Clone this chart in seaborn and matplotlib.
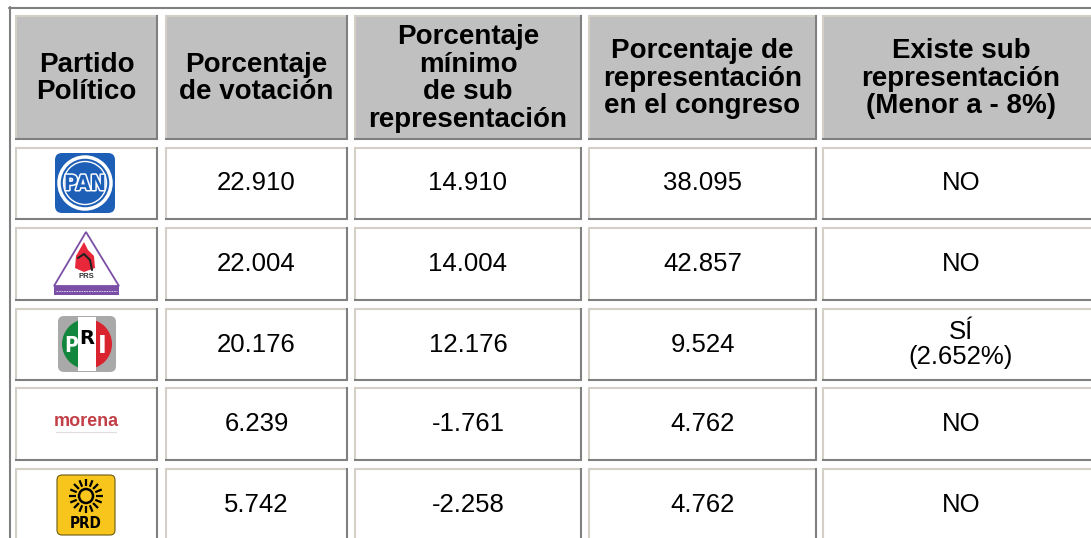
import numpy as np
import pandas as pd
import matplotlib
matplotlib.use("Agg")
import matplotlib.pyplot as plt
import seaborn as sns
from matplotlib.patches import Rectangle, FancyBboxPatch, Circle, Polygon, Wedge
import matplotlib.patheffects as pe

# Table data
encabezados = ["Partido\nPolítico",
               "Porcentaje\nde votación",
               "Porcentaje\nmínimo\nde sub\nrepresentación",
               "Porcentaje de\nrepresentación\nen el congreso",
               "Existe sub\nrepresentación\n(Menor a - 8%)"]
partidos = ["PAN", "PRS", "PRI", "morena", "PRD"]
votacion = [22.910, 22.004, 20.176, 6.239, 5.742]
minimo_sub = [14.910, 14.004, 12.176, -1.761, -2.258]
congreso = [38.095, 42.857, 9.524, 4.762, 4.762]
existe_sub = ["NO", "NO", "SÍ\n(2.652%)", "NO", "NO"]

df = pd.DataFrame({"partido": partidos, "votacion": votacion,
                   "minimo": minimo_sub, "congreso": congreso, "existe": existe_sub})

sns.set_theme(style="white")
plt.rcParams['font.family'] = ['Liberation Sans', 'DejaVu Sans']

W, H = 1091, 538
fig = plt.figure(figsize=(W / 100, H / 100), dpi=100)
ax = fig.add_axes([0, 0, 1, 1])
ax.set_xlim(0, W)
ax.set_ylim(H, 0)
ax.axis('off')

# layout (pixels)
col_x = [(15, 158), (165, 348), (354, 582), (588, 817), (822, 1100)]
head_y = (15, 140)
row_y = [(147, 220), (227, 301), (308, 381), (387, 461), (468, 542)]

light = '#d4d0c8'
dark = '#808080'


def celda(x0, x1, y0, y1, fill):
    ax.add_patch(Rectangle((x0, y0), x1 - x0, y1 - y0, facecolor=fill, edgecolor='none'))
    ax.plot([x0, x1], [y0 + 1, y0 + 1], color=light, lw=1.5, solid_capstyle='butt')
    ax.plot([x0 + 1, x0 + 1], [y0, y1], color=light, lw=1.5, solid_capstyle='butt')
    ax.plot([x0, x1], [y1 - 1, y1 - 1], color=dark, lw=1.5, solid_capstyle='butt')
    ax.plot([x1 - 1, x1 - 1], [y0, y1], color=dark, lw=1.5, solid_capstyle='butt')


# outer border
ax.plot([9, W], [7.5, 7.5], color=dark, lw=1.5)
ax.plot([9.5, 9.5], [7, H], color=dark, lw=1.5)

# header
for (x0, x1), txt in zip(col_x, encabezados):
    celda(x0, x1, head_y[0], head_y[1], '#c0c0c0')
    ax.text((x0 + x1) / 2, (head_y[0] + head_y[1]) / 2 + 1, txt, ha='center', va='center',
            fontsize=20, fontweight='bold', color='black', linespacing=1.08)

# body
for i, row in df.iterrows():
    y0, y1 = row_y[i]
    yc = (y0 + y1) / 2
    for (x0, x1) in col_x:
        celda(x0, x1, y0, y1, 'white')
    vals = [f"{row['votacion']:.3f}", f"{row['minimo']:.3f}", f"{row['congreso']:.3f}", row['existe']]
    for (x0, x1), v in zip(col_x[1:], vals):
        ax.text((x0 + x1) / 2, yc, v, ha='center', va='center', fontsize=18.5,
                color='black', linespacing=1.1)


# logos
def logo_pan(cx, cy):
    ax.add_patch(FancyBboxPatch((cx - 30, cy - 30), 60, 60, boxstyle="round,pad=0,rounding_size=7",
                                facecolor='#1d5fb6', edgecolor='none'))
    ax.add_patch(Circle((cx, cy), 26, facecolor='none', edgecolor='white', lw=2.5))
    ax.add_patch(Circle((cx, cy), 21.5, facecolor='none', edgecolor='white', lw=1.0))
    ax.text(cx, cy + 1, "PAN", ha='center', va='center', fontsize=15, fontweight='bold',
            color='#1d5fb6', family='DejaVu Sans', fontstretch='condensed',
            path_effects=[pe.withStroke(linewidth=2.2, foreground='white')])


def logo_prs(cx, cy):
    ax.add_patch(Polygon([[cx, cy - 32], [cx - 32, cy + 22], [cx + 33, cy + 22]], closed=True,
                         facecolor='white', edgecolor='#7b4fa6', lw=1.3))
    ax.add_patch(Polygon([[cx - 2, cy - 22], [cx - 10, cy - 8], [cx - 11, cy + 4], [cx - 2, cy + 8],
                          [cx + 9, cy + 4], [cx + 8, cy - 8], [cx + 2, cy - 14]], closed=True,
                         facecolor='#e8283a', edgecolor='none'))
    ax.plot([cx - 8, cx - 2, cx + 4, cx + 6], [cy - 6, cy - 10, cy - 4, cy + 6], color='#222222', lw=1.5)
    ax.text(cx, cy + 13, "PRS", ha='center', va='center', fontsize=5.5, fontweight='bold', color='#333333')
    ax.add_patch(Rectangle((cx - 32, cy + 22), 65, 9, facecolor='#7b4fa6', edgecolor='none'))
    ax.plot([cx - 30, cx + 31], [cy + 26.5, cy + 26.5], color='#e8dff0', lw=0.6, ls=(0, (2, 1)))


def logo_pri(cx, cy):
    ax.add_patch(FancyBboxPatch((cx - 29, cy - 28), 58, 56, boxstyle="round,pad=0,rounding_size=6",
                                facecolor='#a9a9a9', edgecolor='none'))
    ax.add_patch(Wedge((cx, cy), 25, 90, 270, facecolor='#13863d', edgecolor='none'))
    ax.add_patch(Wedge((cx, cy), 25, -90, 90, facecolor='#d9232f', edgecolor='none'))
    ax.add_patch(Rectangle((cx - 9, cy - 27), 18, 54, facecolor='white', edgecolor='none'))
    ax.text(cx - 16, cy + 2, "P", ha='center', va='center', fontsize=15, fontweight='bold',
            color='white', family='DejaVu Sans', fontstretch='condensed')
    ax.text(cx, cy - 5, "R", ha='center', va='center', fontsize=14, fontweight='bold',
            color='black', family='DejaVu Sans')
    ax.text(cx + 15, cy + 2, "I", ha='center', va='center', fontsize=17, fontweight='bold',
            color='white', family='DejaVu Sans')


def logo_morena(cx, cy):
    ax.text(cx, cy - 2, "morena", ha='center', va='center', fontsize=13, fontweight='bold',
            color='#c23f47')
    ax.plot([cx - 30, cx + 30], [cy + 8, cy + 8], color='#e3dcdc', lw=0.8)


def logo_prd(cx, cy):
    ax.add_patch(FancyBboxPatch((cx - 29, cy - 30), 58, 60, boxstyle="round,pad=0,rounding_size=5",
                                facecolor='#f7c51c', edgecolor='#6b5a10', lw=0.8))
    sy = cy - 9
    ax.add_patch(Circle((cx, sy), 7, facecolor='none', edgecolor='black', lw=1.8))
    for a in np.linspace(0, 2 * np.pi, 16, endpoint=False):
        ax.plot([cx + 10 * np.cos(a), cx + 17 * np.cos(a)], [sy + 10 * np.sin(a), sy + 17 * np.sin(a)],
                color='black', lw=1.6, solid_capstyle='butt')
    ax.text(cx, cy + 19, "PRD", ha='center', va='center', fontsize=11, fontweight='bold',
            color='black', family='DejaVu Sans', fontstretch='condensed')


logo_centros = [(85, 183), (86, 264), (87, 344), (86, 424), (86, 505)]
dibujos = {"PAN": logo_pan, "PRS": logo_prs, "PRI": logo_pri, "morena": logo_morena, "PRD": logo_prd}
for p, (cx, cy) in zip(df['partido'], logo_centros):
    dibujos[p](cx, cy)

fig.savefig('out.png', dpi=100)
